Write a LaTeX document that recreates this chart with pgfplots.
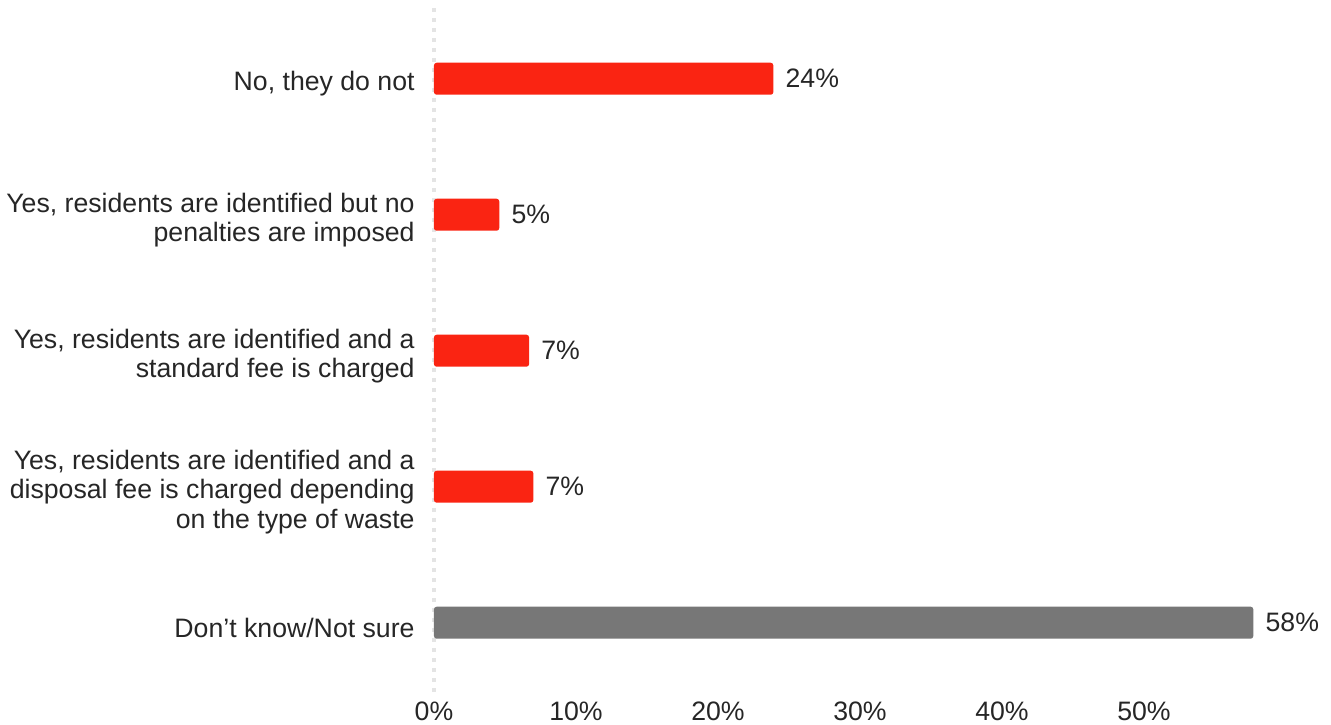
\documentclass[border=0pt]{standalone}
\usepackage{pgfplots}
\pgfplotsset{compat=1.18}
\usepackage{fontspec}
\setmainfont{Liberation Sans}
\definecolor{barred}{RGB}{250,36,18}
\definecolor{bargray}{RGB}{119,119,119}
\definecolor{txt}{RGB}{38,38,38}
\definecolor{gridc}{RGB}{228,228,228}
\begin{document}
\begin{tikzpicture}
\begin{axis}[
  scale only axis,
  width=639pt, height=513pt,
  xmin=0, xmax=60,
  ymin=-0.51, ymax=4.52,
  axis line style={draw=none},
  major tick length=0pt,
  xtick={0,10,20,30,40,50},
  xticklabels={0\%,10\%,20\%,30\%,40\%,50\%},
  ytick={0,1,2,3,4},
  yticklabels={
    {Don’t know/Not sure},
    {Yes, residents are identified and a\\disposal fee is charged depending\\on the type of waste},
    {Yes, residents are identified and a\\standard fee is charged},
    {Yes, residents are identified but no\\penalties are imposed},
    {No, they do not}},
  yticklabel style={align=right, text=txt, font=\fontsize{20}{21.8}\selectfont, xshift=-11pt, yshift=-4pt},
  xticklabel style={text=txt, font=\fontsize{20}{21.8}\selectfont, yshift=-4pt},
  extra x ticks={0},
  extra x tick labels={},
  extra x tick style={grid=major, major grid style={draw=gridc, line width=3pt, dash pattern=on 3pt off 4.5pt}},
  xbar, bar width=24pt, bar shift=0pt,
  point meta=explicit symbolic,
  nodes near coords={\pgfplotspointmeta},
  nodes near coords style={anchor=west, inner sep=0pt, xshift=9pt, text=txt, font=\fontsize{20}{21.8}\selectfont},
  clip=false,
]
\addplot[draw=none, fill=barred, rounded corners=2pt] coordinates {
  (23.9,4) [24\%]
  (4.6,3) [5\%]
  (6.7,2) [7\%]
  (7.0,1) [7\%]
};
\addplot[draw=none, fill=bargray, rounded corners=2pt] coordinates {
  (57.7,0) [58\%]
};
\coordinate (bl) at (axis cs:-30.56,-0.745);
\coordinate (tr) at (axis cs:63.17,4.579);
\end{axis}
\pgfresetboundingbox
\path[use as bounding box] (bl) rectangle (tr);
\end{tikzpicture}
\end{document}
